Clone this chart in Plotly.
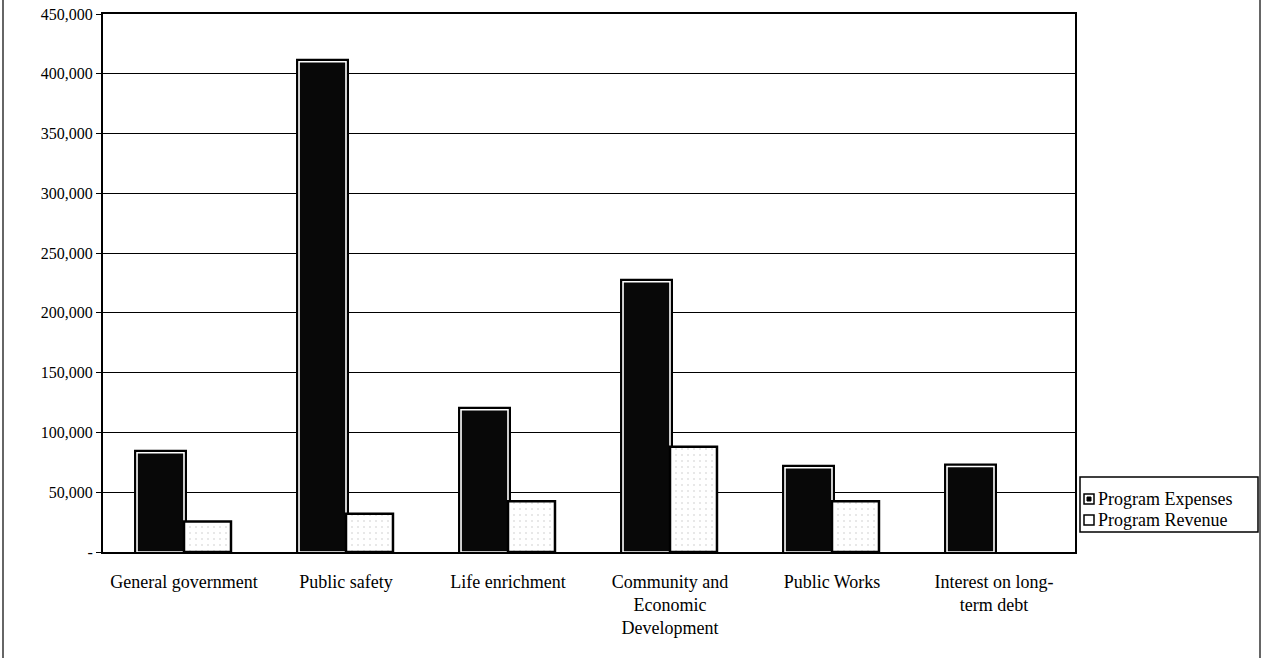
import plotly.graph_objects as go

categories = ["General government", "Public safety", "Life enrichment",
              "Community and<br>Economic<br>Development", "Public Works",
              "Interest on long-<br>term debt"]
program_expenses = [83000, 410000, 119000, 226000, 70500, 71500]
program_revenue = [25500, 32000, 42500, 88000, 42500, None]
tick_values = [0, 50000, 100000, 150000, 200000, 250000, 300000, 350000, 400000, 450000]
tick_labels = ["-", "50,000", "100,000", "150,000", "200,000", "250,000",
               "300,000", "350,000", "400,000", "450,000"]
legend_names = ["Program Expenses", "Program Revenue"]

SERIF = "Liberation Serif"

fig = go.Figure()
# Expense bars: outer black stroke, thin white inner stripe, black fill
fig.add_trace(go.Bar(
    name=legend_names[0], x=categories, y=program_expenses, offsetgroup="exp",
    marker=dict(color="#080808", line=dict(color="#000000", width=6)),
    showlegend=False, hoverinfo="skip",
))
fig.add_trace(go.Bar(
    name=legend_names[0], x=categories, y=program_expenses, offsetgroup="exp",
    marker=dict(color="#080808", line=dict(color="#ffffff", width=1.6)),
    showlegend=False,
))
fig.add_trace(go.Bar(
    name=legend_names[1], x=categories, y=program_revenue, offsetgroup="rev",
    marker=dict(color="#ffffff", line=dict(color="#000000", width=2.5),
                pattern=dict(shape=".", size=6, solidity=0.05, fgcolor="#888888")),
    showlegend=False,
))

# Legend drawn as a boxed key (paper coordinates)
def px(x):
    return (x - 103) / 972

def py(y):
    return (552 - y) / 538

shapes = [
    dict(type="rect", xref="paper", yref="paper", x0=px(1080), x1=px(1258),
         y0=py(532), y1=py(477), line=dict(color="black", width=1.5), fillcolor="white"),
    # frame lines of the page
    dict(type="line", xref="paper", yref="paper", x0=px(3), x1=px(3), y0=py(658), y1=py(0),
         line=dict(color="#333", width=1.5)),
    dict(type="line", xref="paper", yref="paper", x0=px(1260), x1=px(1260), y0=py(658), y1=py(0),
         line=dict(color="#333", width=1.5)),
]
annotations = []
rows = [499, 520]
for i, name in enumerate(legend_names):
    yc = rows[i]
    shapes.append(dict(type="rect", xref="paper", yref="paper",
                       x0=px(1084), x1=px(1094), y0=py(yc + 5), y1=py(yc - 5),
                       line=dict(color="black", width=1.5), fillcolor="white"))
    if i == 0:
        shapes.append(dict(type="rect", xref="paper", yref="paper",
                           x0=px(1087), x1=px(1091), y0=py(yc + 2), y1=py(yc - 2),
                           line=dict(color="black", width=1), fillcolor="black"))
    annotations.append(dict(xref="paper", yref="paper", x=px(1096), y=py(yc),
                            xanchor="left", yanchor="middle", showarrow=False,
                            text=name, font=dict(family=SERIF, size=18, color="black")))

fig.update_layout(
    width=1263, height=658,
    margin=dict(l=103, r=188, t=14, b=106, autoexpand=False),
    paper_bgcolor="white", plot_bgcolor="white",
    font=dict(family=SERIF, size=16, color="black"),
    barmode="group", bargap=0.42, bargroupgap=0.0,
    showlegend=False,
    shapes=shapes,
    annotations=annotations,
)
fig.update_yaxes(
    range=[0, 450000], tickvals=tick_values, ticktext=tick_labels,
    showgrid=True, gridcolor="black", gridwidth=1,
    showline=True, linecolor="black", linewidth=2, mirror=True,
    ticks="outside", ticklen=5, tickcolor="black",
    tickfont=dict(family=SERIF, size=16, color="black"),
    zeroline=False, automargin=False,
)
fig.update_xaxes(
    showline=True, linecolor="black", linewidth=2, mirror=True,
    ticks="outside", ticklen=12, tickcolor="rgba(0,0,0,0)",
    tickfont=dict(family=SERIF, size=18, color="black"),
    tickangle=0, automargin=False,
)

fig.write_html("out.html",
               config={"displayModeBar": False},
               post_script="document.body.style.margin='0';document.body.style.overflow='hidden';")
